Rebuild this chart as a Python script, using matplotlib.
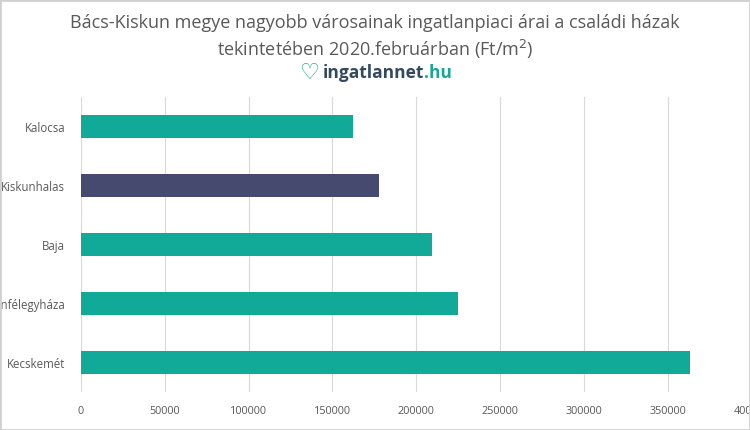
import matplotlib.pyplot as plt
from matplotlib.patches import Rectangle

# data, bottom to top as drawn
cities = ['Kecskemét', 'Kiskunfélegyháza', 'Baja', 'Kiskunhalas', 'Kalocsa']
prices = [363000, 225000, 209500, 177500, 162500]
bar_colors = ['#11AA98', '#11AA98', '#11AA98', '#454A6E', '#11AA98']
xticks = [0, 50000, 100000, 150000, 200000, 250000, 300000, 350000, 400000]

plt.rcParams['font.family'] = ['Open Sans', 'DejaVu Sans']

fig = plt.figure(figsize=(7.5, 4.3), dpi=100)
ax = fig.add_axes([0.1075, 0.088, 0.8955, 0.686])

ax.barh(range(len(cities)), prices, height=0.4, color=bar_colors, zorder=3)
ax.set_xlim(0, 400000)
ax.set_ylim(-0.5, len(cities) - 0.5)
ax.set_yticks(range(len(cities)))
ax.set_yticklabels(cities, fontsize=8.3, color='#595959')
ax.set_xticks(xticks)
ax.set_xticklabels([str(t) for t in xticks], fontsize=7.8, color='#595959')
ax.tick_params(length=0)
ax.tick_params(axis='y', pad=11)
ax.tick_params(axis='x', pad=10)
ax.grid(axis='x', color='#D9D9D9', linewidth=0.8, zorder=0)
for s in ax.spines.values():
    s.set_visible(False)

# title
fig.text(0.5, 0.947, 'Bács-Kiskun megye nagyobb városainak ingatlanpiaci árai a családi házak',
         ha='center', va='center', fontsize=13, color='#595959')
fig.text(0.5, 0.884, 'tekintetében 2020.februárban (Ft/m$^2$)',
         ha='center', va='center', fontsize=13, color='#595959')

# logo
fig.text(0.414, 0.831, '♡', ha='center', va='center', fontsize=16,
         color='#1AA596', fontweight='bold', family=['DejaVu Sans'])
t1 = fig.text(0.43, 0.831, 'ingatlannet', ha='left', va='center', fontsize=12.5,
              color='#34495E', fontweight='bold')
fig.canvas.draw()
bb = t1.get_window_extent()
fig.text(bb.x1 / fig.bbox.width, 0.831, '.hu', ha='left', va='center', fontsize=12.5,
         color='#1AA596', fontweight='bold')

# light border around the picture
fig.patches.append(Rectangle((0, 0), 1, 1, transform=fig.transFigure, fill=False,
                             edgecolor='#D0D0D0', linewidth=2))

fig.savefig('out.png', dpi=100)
